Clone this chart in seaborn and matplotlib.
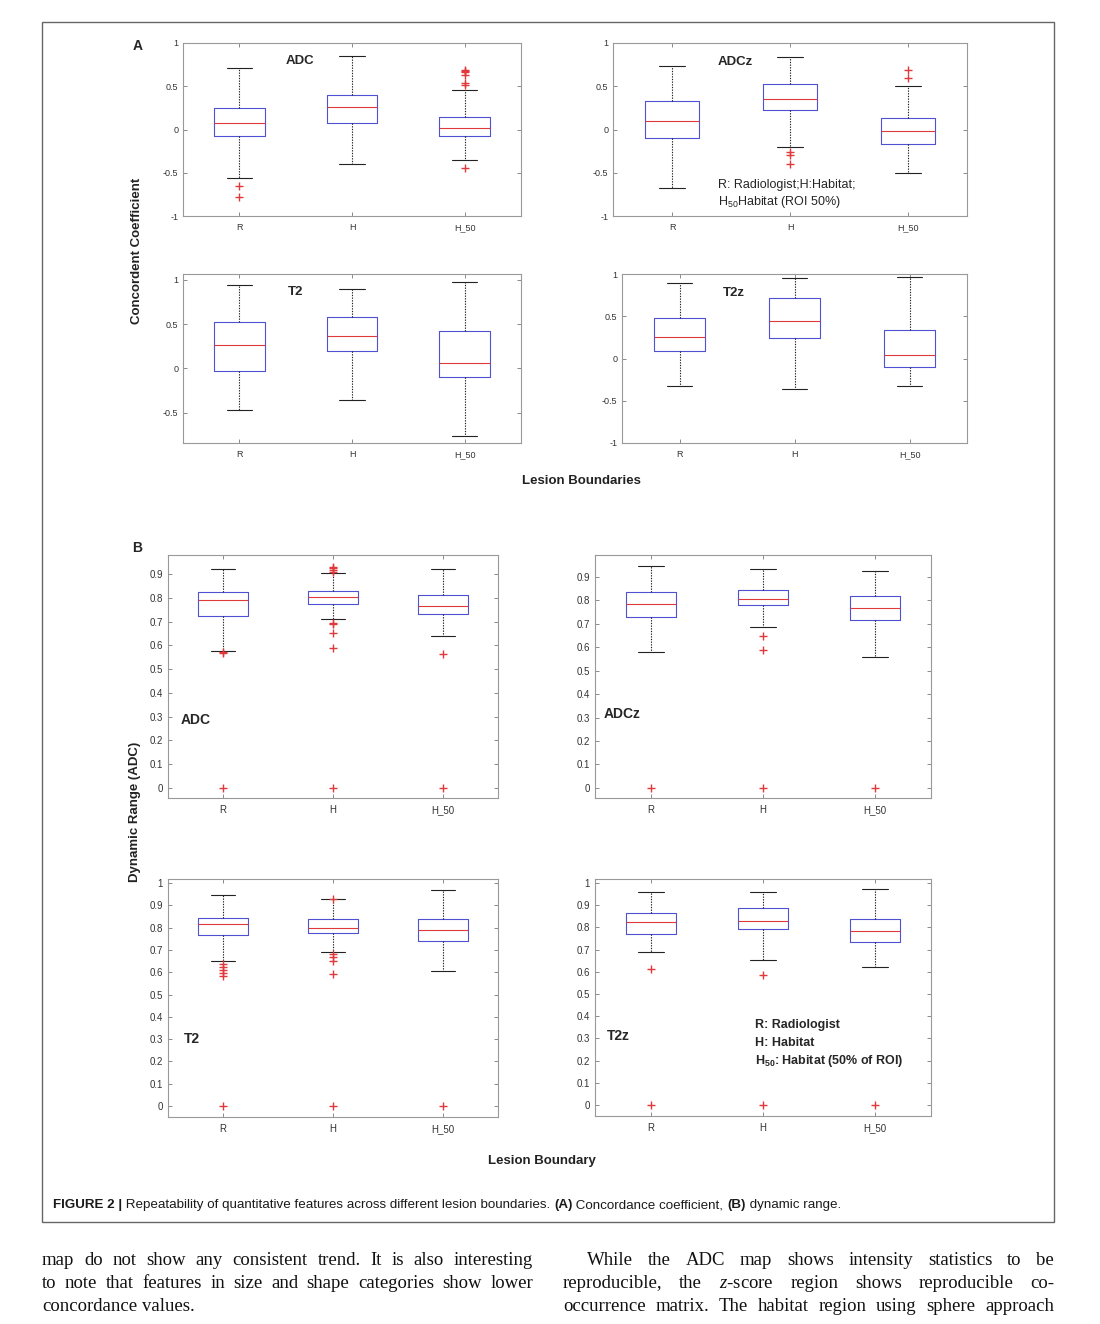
import matplotlib
matplotlib.use("Agg")
import matplotlib.pyplot as plt
import seaborn as sns
import numpy as np
import pandas as pd
from matplotlib.patches import Rectangle

W, H = 1100, 1324

categories = ["R", "H", "H_50"]

# ---- Panel A: concordance coefficient; per boundary [lower whisker, Q1, median, Q3, upper whisker]
a_adc_box = [[-0.56, -0.08, 0.07, 0.25, 0.71], [-0.40, 0.07, 0.26, 0.40, 0.85], [-0.35, -0.08, 0.02, 0.15, 0.46]]
a_adc_out = [[-0.65, -0.78], [], [0.69, 0.68, 0.67, 0.63, 0.54, 0.52, -0.44]]
a_adcz_box = [[-0.68, -0.10, 0.10, 0.33, 0.73], [-0.20, 0.23, 0.35, 0.53, 0.84], [-0.50, -0.17, -0.02, 0.13, 0.50]]
a_adcz_out = [[], [-0.26, -0.29, -0.40], [0.69, 0.60]]
a_t2_box = [[-0.47, -0.03, 0.26, 0.53, 0.94], [-0.36, 0.20, 0.37, 0.58, 0.90], [-0.76, -0.10, 0.06, 0.42, 0.98]]
a_t2_out = [[], [], []]
a_t2z_box = [[-0.32, 0.09, 0.26, 0.48, 0.89], [-0.36, 0.24, 0.44, 0.72, 0.95], [-0.32, -0.10, 0.04, 0.34, 0.97]]
a_t2z_out = [[], [], []]

# ---- Panel B: dynamic range
b_adc_box = [[0.575, 0.725, 0.790, 0.825, 0.920], [0.710, 0.775, 0.803, 0.828, 0.905], [0.640, 0.730, 0.765, 0.810, 0.920]]
b_adc_out = [[0.570, 0.566, 0.0], [0.930, 0.925, 0.915, 0.910, 0.695, 0.690, 0.650, 0.590, 0.0], [0.565, 0.0]]
b_adcz_box = [[0.582, 0.728, 0.785, 0.838, 0.945], [0.687, 0.780, 0.808, 0.843, 0.935], [0.560, 0.717, 0.768, 0.820, 0.925]]
b_adcz_out = [[0.0], [0.650, 0.590, 0.0], [0.0]]
b_t2_box = [[0.650, 0.765, 0.815, 0.845, 0.948], [0.690, 0.775, 0.800, 0.838, 0.930], [0.605, 0.740, 0.790, 0.838, 0.970]]
b_t2_out = [[0.635, 0.625, 0.610, 0.595, 0.585, 0.0], [0.930, 0.680, 0.670, 0.650, 0.590, 0.0], [0.0]]
b_t2z_box = [[0.688, 0.772, 0.825, 0.865, 0.958], [0.652, 0.792, 0.827, 0.887, 0.960], [0.624, 0.735, 0.786, 0.840, 0.972]]
b_t2z_out = [[0.615, 0.0], [0.588, 0.0], [0.0]]

a_yticks = [-1, -0.5, 0, 0.5, 1]
a_t2_yticks = [-0.5, 0, 0.5, 1]
b_yticks = [0, 0.1, 0.2, 0.3, 0.4, 0.5, 0.6, 0.7, 0.8, 0.9]
b_t2_yticks = [0, 0.1, 0.2, 0.3, 0.4, 0.5, 0.6, 0.7, 0.8, 0.9, 1]

caption_pieces = [("FIGURE 2 |", "bold"),
                  (" Repeatability of quantitative features across different lesion boundaries. ", "normal"),
                  ("(A)", "bold"), (" Concordance coefficient, ", "normal"),
                  ("(B)", "bold"), (" dynamic range.", "normal")]

body_left = ["map do not show any consistent trend. It is also interesting",
             "to note that features in size and shape categories show lower",
             "concordance values."]
body_right = ["While the ADC map shows intensity statistics to be",
              r"reproducible, the $\mathit{z}$-score region shows reproducible co-",
              "occurrence matrix. The habitat region using sphere approach"]

BLUE = "#5050d4"
RED = "#e0393b"
SANS = ["Liberation Sans", "DejaVu Sans"]

sns.set_style("ticks")
plt.rcParams["font.family"] = SANS
plt.rcParams["mathtext.fontset"] = "custom"
plt.rcParams["mathtext.rm"] = "Liberation Sans"
plt.rcParams["mathtext.bf"] = "Liberation Sans:bold"
plt.rcParams["mathtext.it"] = "Liberation Serif:italic"
plt.rcParams["mathtext.default"] = "regular"

fig = plt.figure(figsize=(W / 100, H / 100), dpi=100)
fig.patch.set_facecolor("white")


def fx(x):
    return x / W


def fy(y):
    return 1 - y / H


def rect(x0, y0, x1, y1):
    return [fx(x0), fy(y1), (x1 - x0) / W, (y1 - y0) / H]


def panel(r, box, out, ylim, yticks, fs):
    ax = fig.add_axes(r)
    df = pd.DataFrame({"boundary": [c for c, v in zip(categories, box) for _ in v],
                       "value": [x for v in box for x in v]})
    sns.boxplot(data=df, x="boundary", y="value", order=categories, ax=ax,
                whis=(0, 100), width=0.45, fill=False, showfliers=False,
                color=BLUE, linewidth=0.8,
                boxprops={"color": BLUE, "linewidth": 0.8},
                medianprops={"color": RED, "linewidth": 0.8},
                whiskerprops={"color": "#222222", "linestyle": (0, (1.2, 1.2)), "linewidth": 0.8},
                capprops={"color": "#222222", "linewidth": 0.8})
    odf = pd.DataFrame({"boundary": [c for c, v in zip(categories, out) for _ in v],
                        "value": [x for v in out for x in v]})
    if len(odf):
        sns.stripplot(data=odf, x="boundary", y="value", order=categories, ax=ax,
                      jitter=False, marker="+", color=RED, size=5.5, linewidth=1.0)
        for coll in ax.collections:
            coll.set_facecolor(RED)
            coll.set_edgecolor(RED)
            coll.set_linewidth(1.0)
            coll.set_zorder(4)
    ax.set_xlim(-0.5, 2.5)
    ax.set_ylim(*ylim)
    ax.set_yticks(yticks, labels=[f"{t:g}" for t in yticks])
    ax.set_xlabel("")
    ax.set_ylabel("")
    ax.tick_params(axis="both", which="major", direction="in", top=True, right=True,
                   length=3, width=0.6, color="#777777", labelsize=fs, labelcolor="#333333")
    ax.tick_params(axis="x", pad=5)
    ax.tick_params(axis="y", pad=3.5)
    for s in ax.spines.values():
        s.set_visible(True)
        s.set_color("#999999")
        s.set_linewidth(0.8)
    return ax


ax1 = panel(rect(183, 43, 521, 216), a_adc_box, a_adc_out, (-1, 1), a_yticks, 6.5)
ax1.text(0.54, 0.79, "ADC", ha="center", va="center", fontsize=9.5, fontweight="bold")
ax2 = panel(rect(613, 43, 967, 216), a_adcz_box, a_adcz_out, (-1, 1), a_yticks, 6.5)
ax2.text(0.54, 0.78, "ADCz", ha="center", va="center", fontsize=9.5, fontweight="bold")
ax2.text(0.39, -0.64, "R: Radiologist;H:Habitat;", ha="left", va="center", fontsize=9)
ax2.text(0.39, -0.84, "H$_{50}$Habitat (ROI 50%)", ha="left", va="center", fontsize=9)
ax3 = panel(rect(183, 274, 521, 443), a_t2_box, a_t2_out, (-0.843, 1.067), a_t2_yticks, 6.5)
ax3.text(0.5, 0.865, "T2", ha="center", va="center", fontsize=9.5, fontweight="bold")
ax4 = panel(rect(622, 274, 967, 443), a_t2z_box, a_t2z_out, (-1, 1), a_yticks, 6.5)
ax4.text(0.47, 0.78, "T2z", ha="center", va="center", fontsize=9.5, fontweight="bold")

bx1 = panel(rect(168, 555, 498, 798), b_adc_box, b_adc_out, (-0.042, 0.98), b_yticks, 7)
bx1.text(-0.25, 0.285, "ADC", ha="center", va="center", fontsize=10, fontweight="bold")
bx2 = panel(rect(595, 555, 931, 798), b_adcz_box, b_adcz_out, (-0.043, 0.994), b_yticks, 7)
bx2.text(-0.26, 0.316, "ADCz", ha="center", va="center", fontsize=10, fontweight="bold")
bx3 = panel(rect(168, 879, 498, 1117), b_t2_box, b_t2_out, (-0.049, 1.018), b_t2_yticks, 7)
bx3.text(-0.28, 0.30, "T2", ha="center", va="center", fontsize=10, fontweight="bold")
bx4 = panel(rect(595, 879, 931, 1116), b_t2z_box, b_t2z_out, (-0.049, 1.018), b_t2_yticks, 7)
bx4.text(-0.29, 0.31, "T2z", ha="center", va="center", fontsize=10, fontweight="bold")
for yv, s in zip([0.359, 0.278, 0.197], ["R: Radiologist", "H: Habitat", "H$_{50}$: Habitat (50% of ROI)"]):
    bx4.text(0.93, yv, s, ha="left", va="center", fontsize=9, fontweight="bold")

# figure-level labels
fig.text(fx(138), fy(46), "A", ha="center", va="center", fontsize=10, fontweight="bold")
fig.text(fx(137), fy(548), "B", ha="center", va="center", fontsize=10, fontweight="bold")
fig.text(fx(137), fy(251), "Concordent Coefficient", rotation=90, ha="center", va="center",
         fontsize=9.5, fontweight="bold", color="#222222")
fig.text(fx(581), fy(481), "Lesion Boundaries", ha="center", va="center",
         fontsize=9.5, fontweight="bold", color="#222222")
fig.text(fx(135), fy(812), "Dynamic Range (ADC)", rotation=90, ha="center", va="center",
         fontsize=9.5, fontweight="bold", color="#222222")
fig.text(fx(542), fy(1161), "Lesion Boundary", ha="center", va="center",
         fontsize=9.5, fontweight="bold", color="#222222")

# border of the figure box
fig.add_artist(Rectangle((fx(42), fy(1222)), (1054 - 42) / W, (1222 - 22) / H,
                         transform=fig.transFigure, fill=False, edgecolor="#666666", linewidth=1))

renderer = fig.canvas.get_renderer()

# caption, fitted to its width in the reference
cap_fam = ["Liberation Sans Narrow", "Liberation Sans"]
texts = []
for s, w in caption_pieces:
    texts.append(fig.text(0, fy(1205), s, fontsize=9, fontweight=w, family=cap_fam,
                          ha="left", va="center", color="#1a1a1a"))
tot = sum(t.get_window_extent(renderer).width for t in texts)
scale = (847 - 53) / tot
x = 53
for t in texts:
    t.set_fontsize(9 * scale)
for t in texts:
    t.set_x(fx(x))
    x += t.get_window_extent(renderer).width


def justify(line, x0, x1, ybase, fs, just=True):
    words = line.split(" ")
    ts = [fig.text(0, fy(ybase), w, fontsize=fs, family="Liberation Serif", ha="left",
                   va="baseline", color="#111111") for w in words]
    ws = [t.get_window_extent(renderer).width for t in ts]
    if just and len(words) > 1:
        gap = (x1 - x0 - sum(ws)) / (len(words) - 1)
    else:
        sp = fig.text(0, 0, "a a", fontsize=fs, family="Liberation Serif")
        sp2 = fig.text(0, 0, "aa", fontsize=fs, family="Liberation Serif")
        gap = sp.get_window_extent(renderer).width - sp2.get_window_extent(renderer).width
        sp.remove(); sp2.remove()
    xx = x0
    for t, w in zip(ts, ws):
        t.set_x(fx(xx))
        xx += w + gap


BFS = 13.5
bases = [1265, 1288, 1311]
justify(body_left[0], 42, 533, bases[0], BFS)
justify(body_left[1], 42, 533, bases[1], BFS)
justify(body_left[2], 42, 533, bases[2], BFS, just=False)
justify(body_right[0], 587, 1054, bases[0], BFS)
justify(body_right[1], 563, 1054, bases[1], BFS)
justify(body_right[2], 563, 1054, bases[2], BFS)

fig.savefig("out.png", dpi=100, facecolor="white")
